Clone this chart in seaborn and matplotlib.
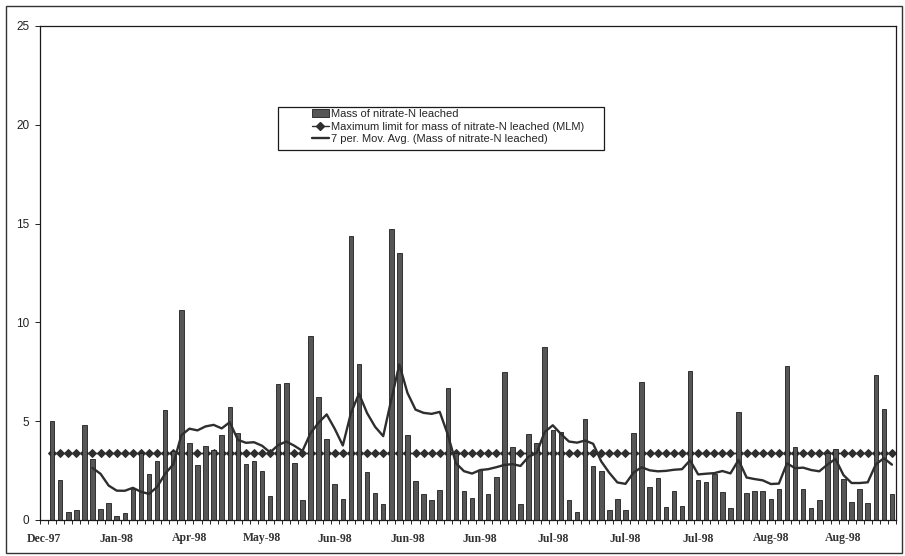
import numpy as np
import pandas as pd
import matplotlib
matplotlib.use("Agg")
import matplotlib.pyplot as plt
from matplotlib.patches import Rectangle, Patch
from matplotlib.lines import Line2D
import seaborn as sns

# Mass of nitrate-N leached per sampling period (first period has no reading)
mass_leached = [
    np.nan, 5.0, 2.0, 0.4, 0.5, 4.8, 3.1, 0.55, 0.85, 0.2,
    0.35, 1.55, 3.4, 2.35, 3.0, 5.55, 3.5, 10.65, 3.9, 2.8,
    3.75, 3.55, 4.3, 5.7, 4.4, 2.85, 3.0, 2.5, 1.2, 6.9,
    6.95, 2.9, 1.0, 9.3, 6.25, 4.1, 1.8, 1.05, 14.35, 7.9,
    2.45, 1.35, 0.8, 14.75, 13.5, 4.3, 1.95, 1.3, 1.0, 1.5,
    6.7, 3.4, 1.45, 1.1, 2.55, 1.3, 2.2, 7.5, 3.7, 0.8,
    4.35, 3.9, 8.75, 4.55, 4.45, 1.0, 0.4, 5.1, 2.75, 2.5,
    0.5, 1.05, 0.5, 4.4, 7.0, 1.65, 2.15, 0.65, 1.45, 0.7,
    7.55, 2.0, 1.9, 2.35, 1.4, 0.6, 5.45, 1.35, 1.45, 1.45,
    1.05, 1.55, 7.8, 3.7, 1.55, 0.6, 1.0, 3.4, 3.6, 2.05,
    0.9, 1.55, 0.85, 7.35, 5.6, 1.3,
]
mlm_limit = 3.4
tick_labels = ["Dec-97", "Jan-98", "Apr-98", "May-98", "Jun-98", "Jun-98",
               "Jun-98", "Jul-98", "Jul-98", "Jul-98", "Aug-98", "Aug-98"]
label_step = 9
window = 7

sns.set_theme(style="white")
plt.rcParams["font.family"] = ["Liberation Sans", "DejaVu Sans"]

df = pd.DataFrame({"period": np.arange(len(mass_leached)), "mass": mass_leached})
df["mlm"] = np.where(df["mass"].notna(), mlm_limit, np.nan)
df["mov_avg"] = df["mass"].rolling(window, min_periods=window - 1).mean()

W, H = 905, 556
fig = plt.figure(figsize=(W / 100, H / 100), dpi=100)
fig.patch.set_facecolor("white")
ax = fig.add_axes([40 / W, 1 - 520 / H, (896 - 40) / W, (520 - 26) / H])

bar_color = "#565656"
edge_color = "#1e1e1e"
line_color = "#2e2e2e"

# limit line sits behind the columns, moving average in front
sns.lineplot(data=df, x="period", y="mlm", color=line_color, lw=1.0,
             marker="D", markersize=4.2, markeredgecolor=line_color,
             ax=ax, zorder=1.5)
sns.barplot(data=df, x="period", y="mass", native_scale=True, width=0.56,
            color=bar_color, edgecolor=edge_color, linewidth=0.6,
            saturation=1, errorbar=None, ax=ax, zorder=2)
sns.lineplot(data=df, x="period", y="mov_avg", color=line_color, lw=1.7,
             ax=ax, zorder=4)

n = len(mass_leached)
ax.set_xlim(-0.5, n - 0.5)
ax.set_ylim(0, 25)
ax.set_yticks(np.arange(0, 26, 5))
ax.set_xticks(np.arange(0, n, label_step))
ax.set_xticklabels(tick_labels, family=["Liberation Serif", "DejaVu Serif"],
                   fontsize=8.5, fontweight="bold", color="#333333")
ax.set_xticks(np.arange(-0.5, n, 1), minor=True)
ax.tick_params(axis="x", which="major", length=0, pad=9)
ax.tick_params(axis="x", which="minor", length=3, width=0.7, color="#222222",
               direction="out", bottom=True)
ax.tick_params(axis="y", which="major", length=3.5, width=0.7, color="#222222",
               direction="out", left=True, labelsize=8.5, pad=4,
               labelcolor="#222222")
ax.set_xlabel("")
ax.set_ylabel("")
for sp in ax.spines.values():
    sp.set_visible(True)
    sp.set_color("#1a1a1a")
    sp.set_linewidth(0.9)

handles = [
    Patch(facecolor=bar_color, edgecolor=edge_color, linewidth=0.6),
    Line2D([], [], color=line_color, lw=1.0, marker="D", markersize=4),
    Line2D([], [], color=line_color, lw=1.7),
]
labels = [
    "Mass of nitrate-N leached",
    "Maximum limit for mass of nitrate-N leached (MLM)",
    "7 per. Mov. Avg. (Mass of nitrate-N leached)",
]
fig.legend(handles, labels, loc="upper left",
           bbox_to_anchor=(312 / W, 1 - 109 / H), bbox_transform=fig.transFigure,
           frameon=False, fontsize=8, handlelength=1.5, handletextpad=0.2,
           labelspacing=0.23, borderpad=0.0, borderaxespad=0.0)
fig.add_artist(Rectangle((278 / W, 1 - 150 / H), (604 - 278) / W, (150 - 107) / H,
                         transform=fig.transFigure, fill=False,
                         edgecolor="#1a1a1a", lw=0.9))

# Chart-area frame
fig.add_artist(Rectangle((6 / W, 1 - 553 / H), (902 - 6) / W, (553 - 6) / H,
                         transform=fig.transFigure, fill=False,
                         edgecolor="#333333", lw=1.0))

fig.savefig("out.png", dpi=100, facecolor="white")
